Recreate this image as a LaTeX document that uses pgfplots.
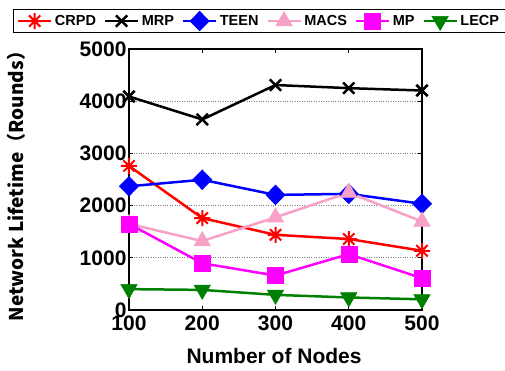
\documentclass[border=0pt]{standalone}
\usepackage{pgfplots}
\pgfplotsset{compat=1.18}
\usepackage{fontspec}
\setmainfont{Liberation Sans}
\newfontfamily\cjk{Noto Sans CJK SC}
\definecolor{cpink}{RGB}{247,160,200}
\definecolor{cgreen}{RGB}{0,128,0}
\definecolor{cmag}{RGB}{255,0,255}
\pgfdeclareplotmark{star8}{%
  \pgfpathmoveto{\pgfpoint{-\pgfplotmarksize}{0pt}}\pgfpathlineto{\pgfpoint{\pgfplotmarksize}{0pt}}%
  \pgfpathmoveto{\pgfpoint{0pt}{-\pgfplotmarksize}}\pgfpathlineto{\pgfpoint{0pt}{\pgfplotmarksize}}%
  \pgfpathmoveto{\pgfpoint{-0.707\pgfplotmarksize}{-0.707\pgfplotmarksize}}\pgfpathlineto{\pgfpoint{0.707\pgfplotmarksize}{0.707\pgfplotmarksize}}%
  \pgfpathmoveto{\pgfpoint{-0.707\pgfplotmarksize}{0.707\pgfplotmarksize}}\pgfpathlineto{\pgfpoint{0.707\pgfplotmarksize}{-0.707\pgfplotmarksize}}%
  \pgfusepathqstroke}
\begin{document}
\begin{tikzpicture}
\begin{axis}[
  scale only axis, width=293pt, height=261pt,
  xmin=100, xmax=500, ymin=0, ymax=5000,
  xtick={100,200,300,400,500}, ytick={0,1000,2000,3000,4000,5000},
  scaled y ticks=false,
  /pgf/number format/assume math mode=true,
  /pgf/number format/set thousands separator={},
  tick label style={font=\bfseries\fontsize{21}{21}\selectfont},
  xticklabel style={yshift=-2pt},
  yticklabel style={xshift=1pt},
  tick align=inside, major tick length=4pt,
  tick style={black, line width=0.8pt},
  axis line style={black, line width=1.3pt},
  ymajorgrids, grid style={dotted, gray, line width=0.8pt},
  xlabel={Number of Nodes},
  xlabel style={font=\bfseries\fontsize{21}{21}\selectfont, at={(axis description cs:0.495,-0.175)}, anchor=center},
  ylabel={\cjk\bfseries Network Lifetime（Rounds）},
  ylabel style={font=\fontsize{19}{19}\selectfont, at={(axis description cs:-0.385,0.492)}, anchor=center},
  legend columns=6,
  legend style={at={(rel axis cs:-0.396,1.153)}, anchor=north west, draw=black, line width=1pt,
    font=\bfseries\fontsize{14.5}{14.5}\selectfont,
    nodes={inner sep=2.5pt},
    inner xsep=3.5pt, inner ysep=2pt,
    /tikz/every even column/.append style={column sep=5.3pt}},
  legend image code/.code={\draw[mark repeat=2,mark phase=2] plot coordinates {(0pt,0pt) (16.5pt,0pt) (33pt,0pt)};},
  every axis plot/.append style={line width=2.5pt},
]
\addplot[red, mark=star8, mark size=8pt, mark options={line width=2pt}] coordinates {(100,2760) (200,1760) (300,1440) (400,1360) (500,1135)};
\addlegendentry{CRPD}
\addplot[black, mark=x, mark size=8pt, mark options={line width=2.5pt}] coordinates {(100,4090) (200,3650) (300,4310) (400,4250) (500,4205)};
\addlegendentry{MRP}
\addplot[blue, mark=diamond*, mark size=8.5pt, mark options={xscale=1.3}] coordinates {(100,2370) (200,2495) (300,2205) (400,2225) (500,2035)};
\addlegendentry{TEEN}
\addplot[cpink, mark=triangle*, mark size=9.5pt, mark options={line width=0.5pt}] coordinates {(100,1650) (200,1320) (300,1775) (400,2250) (500,1695)};
\addlegendentry{MACS}
\addplot[cmag, mark=square*, mark size=8pt, mark options={line width=0.5pt}] coordinates {(100,1650) (200,895) (300,660) (400,1070) (500,610)};
\addlegendentry{MP}
\addplot[cgreen, mark=triangle*, mark size=9.5pt, mark options={rotate=180, line width=0.5pt}] coordinates {(100,400) (200,385) (300,290) (400,240) (500,205)};
\addlegendentry{LECP}
\end{axis}
\pgfresetboundingbox
\path[use as bounding box] (-129pt,-60pt) rectangle (376pt,310pt);
\end{tikzpicture}
\end{document}
